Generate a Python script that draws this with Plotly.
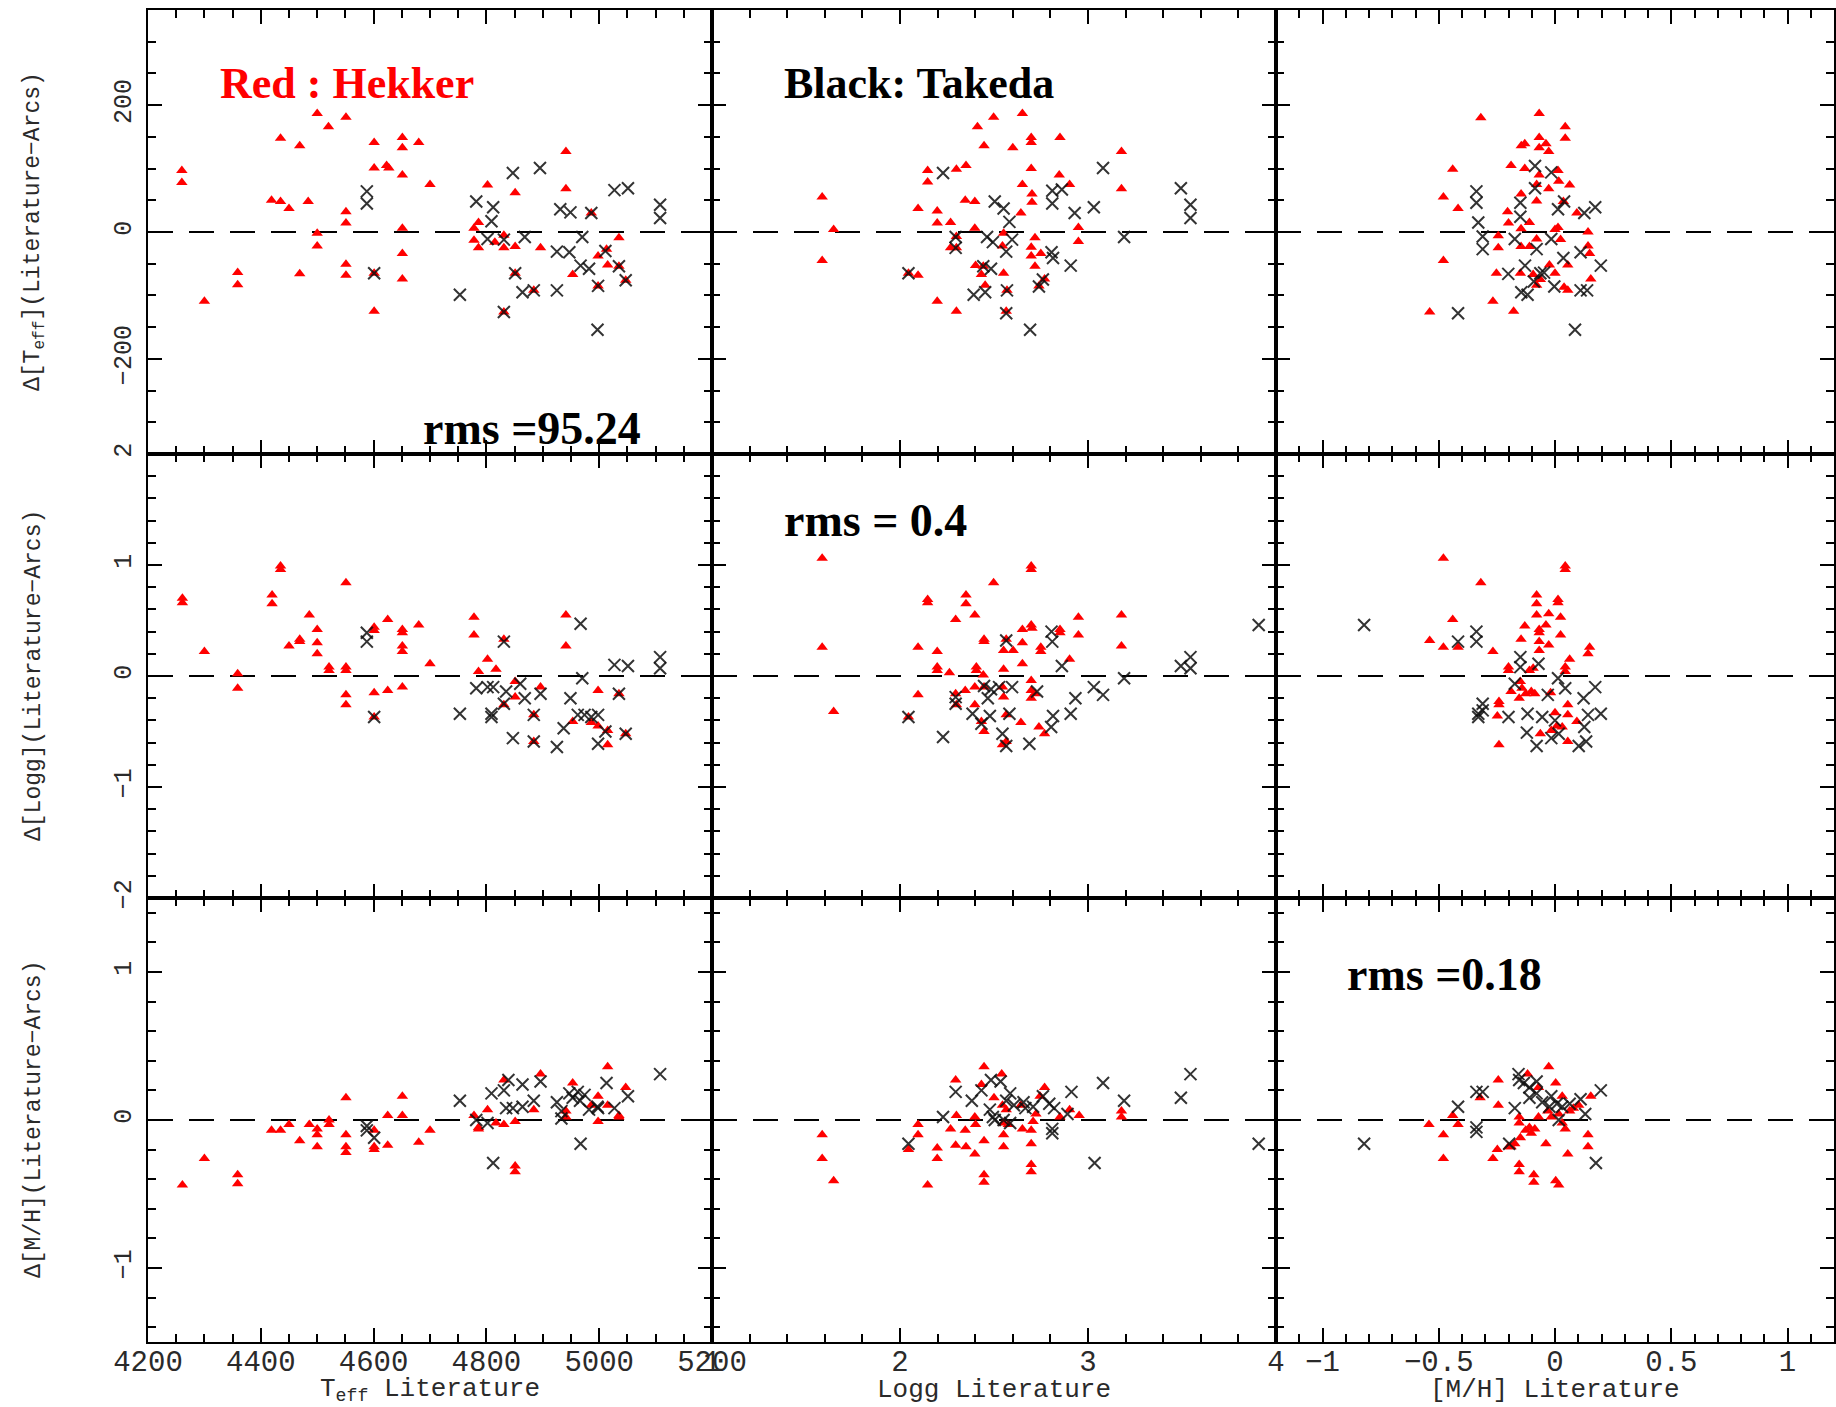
import plotly.graph_objects as go

# ---------------- data ----------------
# Row 1: Delta Teff ; Row 2: Delta logg ; Row 3: Delta [M/H]
# Columns: x = Teff literature, logg literature, [M/H] literature

# Panel (Teff lit, dTeff)
hek_T_dT_x = [4260,4260,4300,4359,4359,4419,4435,4450,4435,4469,4469,4484,4500,4520,4500,4500,4551,4551,4551,4551,4551,4601,4601,4601,4601,4623,4627,4651,4651,4651,4651,4651,4651,4680,4700,4778,4786,4778,4786,4802,4815,4831,4831,4831,4851,4851,4851,4884,4896,4941,4941,4953,4986,4998,4998,5013,5015,5035,5035,5047]
hek_T_dT_y = [97,78,-109,-64,-83,50,48,37,148,136,-66,48,187,166,-2,-22,181,32,14,-51,-68,141,101,-65,-125,105,101,149,133,90,6,-34,-74,141,75,6,15,-13,-25,74,-16,-5,-25,-126,62,-23,-65,-92,-25,127,68,-67,30,-38,-85,-27,-52,-9,-54,-76]
tak_T_dT_x = [4588,4588,4601,4753,4782,4812,4809,4802,4847,4831,4831,4868,4851,4864,4884,4895,4925,4925,4931,4949,4947,4970,4967,4982,4986,4997,4998,5011,5027,5051,5108,5108,5035,5047]
tak_T_dT_y = [64,45,-65,-99,48,39,17,-11,93,-12,-126,-8,-65,-95,-92,101,-92,-31,36,31,-32,-8,-53,-58,30,-154,-85,-30,66,69,43,22,-54,-76]

# Panel (logg lit, dTeff)
hek_G_dT_x = [1.586,1.647,1.586,2.147,2.147,2.096,2.198,2.198,2.269,2.30,2.351,2.347,2.398,2.412,2.447,2.498,2.651,2.60,2.698,2.698,2.851,2.698,2.847,2.651,2.902,2.702,2.702,2.643,3.178,3.178,2.949,2.949,2.398,2.30,2.269,2.30,2.045,2.096,2.198,2.30,2.402,2.443,2.433,2.453,2.551,2.545,2.551,2.569,2.565,2.718,2.698,2.698,2.718,2.749,2.769,2.739]
hek_G_dT_y = [55,4,-45,97,79,37,33,14,15,99,105,50,48,166,136,181,187,133,149,141,149,100,90,75,75,60,47,30,127,68,7,-15,6,-7,-25,-25,-65,-68,-109,-125,-53,-54,-67,-84,-2,-22,-65,-92,-125,-9,-24,-38,-54,-34,-74,-85]
tak_G_dT_x = [2.229,2.504,2.551,2.582,2.81,2.861,2.81,2.929,3.031,3.08,3.494,3.545,3.545,3.192,2.296,2.296,2.463,2.494,2.596,2.565,2.806,2.814,2.908,2.045,2.443,2.484,2.392,2.453,2.569,2.565,2.692,2.76,2.739]
tak_G_dT_y = [93,48,37,16,65,67,45,30,39,101,69,43,22,-8,-8,-25,-8,-16,-12,-31,-32,-41,-53,-65,-54,-58,-99,-95,-92,-128,-154,-75,-86]

# Panel ([M/H] lit, dTeff)
hek_M_dT_x = [-0.319,-0.068,0.044,0.044,-0.068,-0.130,-0.145,-0.068,-0.039,-0.027,-0.440,-0.189,-0.130,-0.068,0.013,0.016,-0.079,-0.027,0.063,-0.480,-0.417,-0.146,-0.079,0.036,-0.204,-0.200,-0.110,-0.146,0.013,0.0,0.094,0.142,-0.244,-0.244,-0.480,-0.146,-0.110,-0.079,0.024,0.142,0.149,0.055,-0.024,-0.252,-0.149,-0.094,-0.063,0.0,0.154,-0.079,0.039,0.055,-0.267,-0.178,-0.539]
hek_M_dT_y = [180,187,166,148,149,139,136,133,139,127,99,105,100,90,97,80,75,68,74,55,37,60,49,48,32,14,15,5,7,4,30,0,-6,-25,-45,-23,-23,-11,-12,-22,-34,-52,-52,-65,-65,-67,-75,-65,-74,-84,-87,-92,-109,-125,-126]
tak_M_dT_x = [-0.338,-0.338,-0.330,-0.311,-0.311,-0.417,-0.149,-0.149,-0.086,-0.086,-0.016,0.013,0.039,0.126,0.173,-0.173,-0.079,-0.016,0.036,0.110,0.197,-0.201,-0.129,-0.047,-0.003,-0.145,-0.118,0.110,0.138,0.086,-0.063,-0.091]
tak_M_dT_y = [64,46,15,-7,-27,-128,46,24,104,69,94,36,48,30,39,-11,-27,-11,-41,-32,-53,-66,-53,-64,-86,-95,-99,-92,-92,-154,-65,-78]

# Panel (Teff lit, dlogg)
hek_T_dG_x = [4261,4261,4300,4359,4359,4420,4420,4435,4435,4450,4469,4469,4486,4500,4500,4500,4521,4521,4551,4551,4551,4551,4551,4601,4601,4601,4601,4625,4625,4651,4651,4651,4651,4651,4680,4700,4778,4778,4786,4802,4817,4831,4831,4851,4851,4884,4884,4896,4941,4941,4953,4986,4998,4998,5015,5015,5035,5047]
hek_T_dG_y = [0.70,0.66,0.22,0.02,-0.11,0.73,0.65,0.99,0.96,0.27,0.33,0.31,0.55,0.42,0.30,0.20,0.08,0.05,0.84,0.08,0.05,-0.17,-0.26,0.44,0.41,-0.15,-0.37,0.51,-0.13,0.42,0.39,0.27,0.22,-0.10,0.46,0.11,0.53,0.37,0.04,0.15,0.06,0.33,-0.26,-0.05,-0.19,-0.35,-0.59,-0.10,0.55,0.27,-0.41,-0.42,-0.13,-0.45,-0.49,-0.62,-0.16,-0.52]
tak_T_dG_x = [4588,4588,4601,4753,4782,4802,4812,4809,4809,4831,4831,4847,4835,4860,4868,4884,4884,4896,4925,4937,4949,4967,4970,4962,4974,4986,4998,4998,5011,5027,5051,5108,5108,5035,5047]
tak_T_dG_y = [0.39,0.31,-0.37,-0.34,-0.11,-0.10,-0.10,-0.34,-0.37,0.31,-0.25,-0.56,-0.14,-0.07,-0.20,-0.35,-0.59,-0.16,-0.64,-0.47,-0.20,0.47,-0.02,-0.35,-0.35,-0.37,-0.35,-0.61,-0.50,0.10,0.09,0.17,0.07,-0.16,-0.52]

# Panel (logg lit, dlogg)
hek_G_dG_x = [1.586,1.586,1.647,2.147,2.147,2.096,2.198,2.198,2.198,2.263,2.296,2.351,2.351,2.398,2.447,2.447,2.498,2.406,2.406,2.551,2.551,2.565,2.602,2.651,2.651,2.698,2.702,2.698,2.698,2.651,2.749,2.749,2.851,2.851,2.902,2.949,2.949,3.178,3.178,2.096,2.045,2.296,2.30,2.347,2.398,2.398,2.447,2.433,2.447,2.545,2.551,2.565,2.545,2.565,2.643,2.698,2.698,2.718,2.698,2.739,2.769,2.443]
hek_G_dG_y = [1.06,0.26,-0.32,0.69,0.66,0.26,0.22,0.08,0.05,0.03,0.51,0.73,0.65,0.55,0.33,0.31,0.84,0.08,0.05,0.06,0.23,0.33,0.23,0.30,0.42,0.46,0.43,0.99,0.96,0.11,0.26,0.22,0.42,0.39,0.15,0.53,0.37,0.55,0.27,-0.17,-0.37,-0.16,-0.26,-0.13,-0.10,-0.26,-0.10,-0.41,-0.50,-0.10,-0.19,-0.35,-0.62,-0.59,-0.42,-0.04,-0.13,-0.16,-0.20,-0.46,-0.52,0.01]
tak_G_dG_x = [2.565,2.806,2.81,2.861,3.031,3.08,3.192,3.494,3.545,3.545,3.908,2.933,2.908,2.814,2.804,2.688,2.565,2.545,2.582,2.478,2.386,2.296,2.296,2.229,2.045,2.447,2.484,2.527,2.596,2.467,2.729,2.433]
tak_G_dG_y = [0.32,0.40,0.31,0.09,-0.10,-0.17,-0.02,0.09,0.17,0.07,0.46,-0.20,-0.34,-0.36,-0.46,-0.61,-0.63,-0.52,-0.34,-0.36,-0.34,-0.25,-0.19,-0.55,-0.37,-0.09,-0.12,-0.10,-0.10,-0.20,-0.14,-0.43]

# Panel ([M/H] lit, dlogg)
hek_M_dG_x = [-0.480,-0.319,0.044,0.044,-0.079,-0.079,0.013,0.013,-0.079,-0.027,0.024,-0.440,-0.130,-0.068,-0.068,-0.039,0.024,-0.539,-0.480,-0.417,-0.267,-0.146,-0.068,-0.068,-0.027,0.149,0.142,0.063,-0.200,-0.200,-0.110,-0.094,0.044,0.044,-0.149,-0.189,-0.142,-0.126,-0.102,-0.087,-0.154,-0.019,-0.241,-0.241,-0.248,-0.241,0.055,0.0,0.055,0.094,-0.063,-0.016,0.008,0.031,0.055]
hek_M_dG_y = [1.06,0.84,0.99,0.96,0.73,0.65,0.69,0.66,0.55,0.56,0.53,0.51,0.45,0.42,0.39,0.46,0.37,0.32,0.26,0.26,0.22,0.33,0.31,0.23,0.28,0.26,0.20,0.15,0.08,0.05,0.05,0.07,0.08,0.04,-0.05,-0.14,-0.11,-0.16,-0.14,-0.16,-0.20,-0.15,-0.23,-0.26,-0.36,-0.62,-0.26,-0.33,-0.35,-0.41,-0.52,-0.49,-0.45,-0.46,-0.59]
tak_M_dG_x = [-0.821,-0.417,-0.338,-0.338,-0.311,-0.330,-0.330,-0.311,-0.149,-0.149,-0.071,0.013,0.044,-0.031,0.173,0.123,-0.200,-0.118,-0.055,-0.121,-0.079,-0.016,0.016,0.126,0.197,0.142,0.102,0.134,0.0,-0.173]
tak_M_dG_y = [0.46,0.31,0.40,0.31,-0.25,-0.34,-0.37,-0.31,0.17,0.08,0.11,-0.02,-0.11,-0.17,-0.10,-0.20,-0.37,-0.34,-0.37,-0.51,-0.63,-0.56,-0.52,-0.46,-0.34,-0.35,-0.63,-0.59,-0.40,-0.07]

# Panel (Teff lit, d[M/H])
hek_T_dM_x = [4261,4300,4359,4359,4419,4435,4450,4469,4486,4500,4500,4500,4521,4521,4551,4551,4551,4551,4601,4601,4601,4625,4625,4651,4651,4680,4700,4778,4786,4786,4802,4817,4831,4831,4851,4851,4851,4884,4896,4941,4941,4953,4986,4998,4998,5015,5015,5035,5035,5047]
hek_T_dM_y = [-0.44,-0.26,-0.37,-0.43,-0.07,-0.07,-0.03,-0.14,-0.03,-0.06,-0.10,-0.18,0.00,-0.03,0.15,-0.10,-0.18,-0.22,-0.07,-0.18,-0.20,0.03,-0.17,0.16,0.03,-0.15,-0.07,0.03,-0.05,-0.06,0.07,-0.02,0.27,-0.03,-0.01,-0.31,-0.35,0.07,0.31,0.06,0.02,0.25,0.10,0.16,-0.01,0.36,0.10,0.03,0.02,0.22]
tak_T_dM_x = [4588,4588,4601,4753,4782,4802,4812,4809,4831,4839,4835,4847,4864,4864,4884,4896,4925,4933,4947,4962,4966,4967,4974,4982,4997,4998,5013,5027,5051,5108,4933,4953]
tak_T_dM_y = [-0.04,-0.07,-0.12,0.13,0.00,-0.02,-0.29,0.18,0.20,0.27,0.08,0.08,0.24,0.09,0.13,0.26,0.12,0.06,0.18,0.19,0.13,-0.16,0.17,0.07,0.09,0.08,0.25,0.08,0.16,0.31,0.01,0.15]

# Panel (logg lit, d[M/H])
hek_G_dM_x = [1.586,1.586,1.647,2.045,2.096,2.096,2.147,2.198,2.198,2.269,2.296,2.30,2.296,2.347,2.351,2.398,2.402,2.398,2.433,2.447,2.447,2.447,2.447,2.50,2.541,2.545,2.551,2.551,2.551,2.565,2.576,2.643,2.651,2.698,2.698,2.698,2.698,2.723,2.745,2.769,2.851,2.902,2.953,3.178,3.178,2.708]
hek_G_dM_y = [-0.10,-0.26,-0.41,-0.20,-0.03,-0.10,-0.44,-0.19,-0.26,-0.06,0.27,0.03,-0.17,-0.07,-0.18,0.02,-0.03,-0.23,0.24,0.36,-0.14,-0.37,-0.42,0.15,0.31,0.10,-0.02,-0.10,-0.18,0.07,-0.03,0.10,-0.06,-0.07,-0.16,-0.30,-0.35,0.04,0.16,0.22,0.02,0.07,0.03,0.06,0.02,-0.01]
tak_G_dM_x = [2.045,2.229,2.296,2.382,2.433,2.484,2.535,2.478,2.504,2.551,2.586,2.565,2.606,2.657,2.708,2.76,2.794,2.82,2.81,2.81,2.912,3.08,3.192,3.035,3.494,3.545,3.908,2.494,2.586,2.667,2.891]
tak_G_dM_y = [-0.16,0.02,0.19,0.13,0.20,0.27,0.26,0.07,0.00,0.00,0.18,0.13,0.10,0.12,0.09,0.16,0.11,0.08,-0.06,-0.09,0.19,0.25,0.13,-0.29,0.15,0.31,-0.16,0.02,-0.02,0.08,0.04]

# Panel ([M/H] lit, d[M/H])
hek_M_dM_x = [-0.542,-0.480,-0.480,-0.440,-0.417,-0.322,-0.244,-0.244,-0.267,-0.248,-0.200,-0.189,-0.173,-0.149,-0.154,-0.154,-0.154,-0.154,-0.118,-0.126,-0.110,-0.102,-0.087,-0.091,-0.091,-0.071,-0.071,-0.039,-0.027,-0.031,-0.016,0.003,0.003,0.016,0.031,0.031,0.044,0.055,0.063,0.079,0.102,0.142,0.142,0.154,0.016]
hek_M_dM_y = [-0.03,-0.10,-0.26,0.03,-0.03,0.15,0.27,0.10,-0.26,-0.20,-0.18,-0.18,-0.16,-0.12,-0.30,-0.35,0.02,-0.02,0.31,-0.07,-0.05,-0.09,-0.06,-0.37,-0.42,0.02,0.22,-0.16,0.36,0.06,0.02,0.25,-0.41,-0.44,0.16,-0.02,-0.06,-0.23,0.06,0.08,0.10,-0.10,-0.18,0.16,0.04]
tak_M_dM_x = [-0.821,-0.417,-0.338,-0.311,-0.338,-0.338,-0.173,-0.197,-0.157,-0.154,-0.134,-0.110,-0.079,-0.110,-0.079,-0.055,-0.016,0.008,0.031,0.063,0.110,0.130,0.197,0.176,0.016,-0.024]
tak_M_dM_y = [-0.16,0.09,0.19,0.19,-0.05,-0.08,0.08,-0.16,0.31,0.27,0.25,0.22,0.26,0.15,0.18,0.12,0.16,0.11,0.09,0.11,0.14,0.04,0.20,-0.29,0.00,0.09]

# axis titles / labels
x_titles = ["T<sub>eff</sub> Literature", "Logg Literature", "[M/H] Literature"]
y_titles = ["Δ[T<sub>eff</sub>](Literature−Arcs)", "Δ[Logg](Literature−Arcs)", "Δ[M/H](Literature−Arcs)"]
legend_hekker = "Red : Hekker"
legend_takeda = "Black: Takeda"
rms_texts = ["rms =95.24", "rms = 0.4", "rms =0.18"]

# ---------------- layout geometry ----------------
W, H = 1836, 1407
col_edges = [148, 712, 1276, 1834]
row_edges = [10, 454, 898, 1342]

x_ranges = [[4200, 5200], [1, 4], [-1.2, 1.2]]
x_dticks = [200, 1, 0.5]
x_tick0 = [4200, 1, 0]
x_minor = [50, 0.2, 0.1]
y_ranges = [[-350, 350], [-2, 2], [-1.5, 1.5]]
y_dticks = [200, 1, 1]
y_minor = [50, 0.2, 0.2]

panels = [
    [(hek_T_dT_x, hek_T_dT_y, tak_T_dT_x, tak_T_dT_y),
     (hek_G_dT_x, hek_G_dT_y, tak_G_dT_x, tak_G_dT_y),
     (hek_M_dT_x, hek_M_dT_y, tak_M_dT_x, tak_M_dT_y)],
    [(hek_T_dG_x, hek_T_dG_y, tak_T_dG_x, tak_T_dG_y),
     (hek_G_dG_x, hek_G_dG_y, tak_G_dG_x, tak_G_dG_y),
     (hek_M_dG_x, hek_M_dG_y, tak_M_dG_x, tak_M_dG_y)],
    [(hek_T_dM_x, hek_T_dM_y, tak_T_dM_x, tak_T_dM_y),
     (hek_G_dM_x, hek_G_dM_y, tak_G_dM_x, tak_G_dM_y),
     (hek_M_dM_x, hek_M_dM_y, tak_M_dM_x, tak_M_dM_y)],
]

TICKFONT = dict(family="Liberation Mono", size=29, color="#2a2a2a")
YTICKFONT = dict(family="Liberation Mono", size=25, color="#2a2a2a")

fig = go.Figure()
layout = dict(template="none", width=W, height=H, margin=dict(l=0, r=0, t=0, b=0, pad=0, autoexpand=False),
              paper_bgcolor="white", plot_bgcolor="white", showlegend=False)
shapes = []

for r in range(3):
    for c in range(3):
        k = r * 3 + c + 1
        sfx = "" if k == 1 else str(k)
        hx, hy, tx, ty = panels[r][c]
        fig.add_trace(go.Scatter(
            x=hx, y=hy, mode="markers", xaxis="x" + sfx, yaxis="y" + sfx,
            cliponaxis=False, hoverinfo="skip",
            marker=dict(symbol="triangle-up", size=10, color="#ff0000", line=dict(width=0))))
        fig.add_trace(go.Scatter(
            x=tx, y=ty, mode="markers", xaxis="x" + sfx, yaxis="y" + sfx,
            cliponaxis=False, hoverinfo="skip",
            marker=dict(symbol="x-thin", size=12, color="rgba(15,15,15,0.85)",
                        line=dict(width=2, color="rgba(15,15,15,0.85)"))))

        layout["xaxis" + sfx] = dict(
            domain=[col_edges[c] / W, col_edges[c + 1] / W], automargin=False,
            range=x_ranges[c], anchor="y" + sfx, showgrid=False, zeroline=False,
            showline=True, linecolor="black", linewidth=2, mirror="allticks",
            ticks="inside", ticklen=14, tickwidth=2, tickcolor="black",
            tick0=x_tick0[c], dtick=x_dticks[c],
            showticklabels=(r == 2), tickfont=TICKFONT, ticklabelstandoff=-8,
            minor=dict(dtick=x_minor[c], tick0=x_tick0[c], ticks="inside", ticklen=8,
                       tickwidth=2, tickcolor="black", showgrid=False))
        layout["yaxis" + sfx] = dict(
            domain=[1 - row_edges[r + 1] / H, 1 - row_edges[r] / H], automargin=False,
            range=y_ranges[r], anchor="x" + sfx, showgrid=False, zeroline=False,
            showline=True, linecolor="black", linewidth=2, mirror="allticks",
            ticks="inside", ticklen=14, tickwidth=2, tickcolor="black",
            tick0=0, dtick=y_dticks[r], tickangle=-90,
            showticklabels=(c == 0), tickfont=YTICKFONT, ticklabelstandoff=5,
            minor=dict(dtick=y_minor[r], tick0=0, ticks="inside", ticklen=8,
                       tickwidth=2, tickcolor="black", showgrid=False))
        shapes.append(dict(type="line", xref="x" + sfx + " domain", x0=0, x1=1,
                           yref="y" + sfx, y0=0, y1=0, layer="below",
                           line=dict(color="black", width=2, dash="25px,16px")))

layout["shapes"] = shapes

ann = []
# y titles
for r in range(3):
    ann.append(dict(text=y_titles[r], xref="paper", yref="paper",
                    x=34 / W, y=1 - (row_edges[r] + row_edges[r + 1]) / 2 / H,
                    xanchor="center", yanchor="middle", textangle=-90, showarrow=False,
                    font=dict(family="Liberation Mono", size=23, color="#2a2a2a")))
# x titles
for c in range(3):
    ann.append(dict(text=x_titles[c], xref="paper", yref="paper",
                    x=(col_edges[c] + col_edges[c + 1]) / 2 / W, y=1 - 1390 / H,
                    xanchor="center", yanchor="middle", showarrow=False,
                    font=dict(family="Liberation Mono", size=26, color="#2a2a2a")))
# legend-like labels
ann.append(dict(text="<b>" + legend_hekker + "</b>", xref="paper", yref="paper",
                x=218 / W, y=1 - 84 / H, xanchor="left", yanchor="middle", showarrow=False,
                font=dict(family="Liberation Serif", size=44, color="#ff0000")))
ann.append(dict(text="<b>" + legend_takeda + "</b>", xref="paper", yref="paper",
                x=782 / W, y=1 - 84 / H, xanchor="left", yanchor="middle", showarrow=False,
                font=dict(family="Liberation Serif", size=44, color="black")))
rms_pos = [(421, 428), (782, 520), (1345, 974)]
for t, (px, py) in zip(rms_texts, rms_pos):
    ann.append(dict(text="<b>" + t + "</b>", xref="paper", yref="paper",
                    x=px / W, y=1 - py / H, xanchor="left", yanchor="middle", showarrow=False,
                    font=dict(family="Liberation Serif", size=46, color="black")))
layout["annotations"] = ann

fig.update_layout(**layout)
fig.write_html("out.html")
